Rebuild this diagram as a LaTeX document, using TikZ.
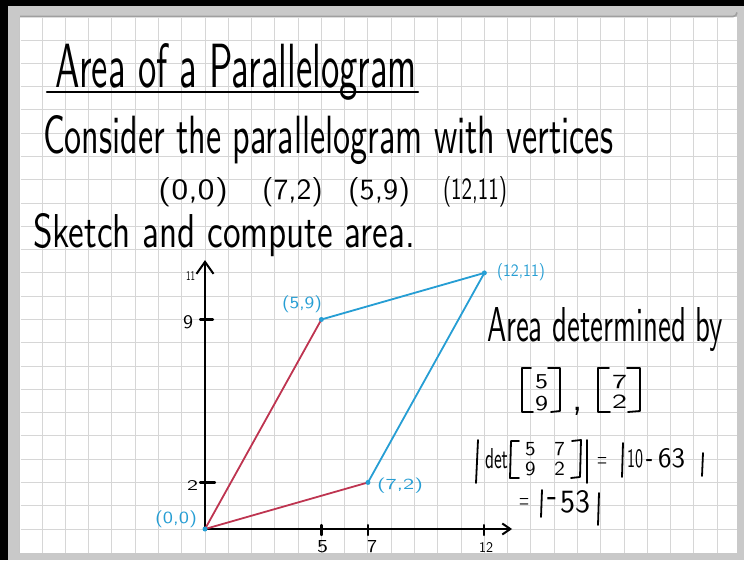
\documentclass[tikz,border=0pt]{standalone}
\usepackage{graphicx}
\usetikzlibrary{arrows.meta}
\definecolor{gridc}{RGB}{214,214,214}
\definecolor{redl}{RGB}{190,52,80}
\definecolor{bluel}{RGB}{38,158,212}
\definecolor{framec}{RGB}{201,201,201}
\newcommand{\hw}[3]{\resizebox{#1pt}{#2pt}{\sffamily #3}}
\begin{document}
\begin{tikzpicture}[x=1pt,y=-1pt,
  txt/.style={anchor=base west, inner sep=0pt, outer sep=0pt},
  btxt/.style={txt, text=bluel},
  pen/.style={line width=1.8pt, line cap=round, line join=round},
  gridline/.style={gridc, line width=1pt},
  axis/.style={line width=2.2pt, line cap=round},
  redline/.style={redl, line width=1.8pt},
  blueline/.style={bluel, line width=1.8pt},
  vdot/.style={circle, fill=bluel, inner sep=0pt, minimum size=5pt}]
\useasboundingbox (0,0) rectangle (744,560);
% frame and paper
\fill[black] (0,0) rectangle (744,560);
\fill[framec] (8,6) rectangle (744,560);
\fill[white] (20,17) rectangle (737,553);
\draw[gray!75, line width=1.6pt] (20,16.5) -- (733,16.5) arc[start angle=90, end angle=0, radius=4];
\draw[gray!45, line width=0.8pt] (19.6,17) -- (19.6,553);
% grid
\foreach \k in {-7,...,22} \draw[gridline] ({205+23.28*\k},17.5) -- ({205+23.28*\k},552.5);
\foreach \k in {0,...,21} \draw[gridline] (20.5,{529-23.28*\k}) -- (736.5,{529-23.28*\k});
% texts
\node[txt] (title) at (55,87) {\hw{362}{44}{Area of a Parallelogram}};
\draw[line width=2.4pt, line cap=round] (47,92) -- (418,92);
\node[txt] (line2) at (43,153) {\hw{570}{38}{Consider the parallelogram with vertices}};
\node[txt] (p00) at (158,199) {\hw{70}{22}{(0,0)}};
\node[txt] (p72) at (262,199) {\hw{61}{22}{(7,2)}};
\node[txt] (p59) at (348,199) {\hw{62}{22}{(5,9)}};
\node[txt] (p1211) at (443,199) {\hw{64}{23}{(12,11)}};
\node[txt] (line4) at (33,247) {\hw{382}{34}{Sketch and compute area.}};
\node[txt] (area) at (487,341) {\hw{236}{34}{Area determined by}};
% graph
\begin{scope}[shift={(205,529)}, x=23.28pt, y=23.28pt]
  \coordinate (O) at (0,0);
  \coordinate (A) at (5,9);
  \coordinate (B) at (7,2);
  \coordinate (C) at (12,11);
  \coordinate (ytip) at (0,11.55);
  \coordinate (xtip) at (13.19,0);
  \draw[axis, -{Straight Barb[length=12pt, width=17pt, line width=2pt]}] (O) -- (ytip);
  \draw[axis, -{Straight Barb[length=8pt, width=11pt, line width=2pt]}] (O) -- (xtip);
  \draw[axis] (-0.21,9) -- (0.34,9);
  \draw[axis] (-0.21,2) -- (0.43,2);
  \foreach \t in {5,7,12} \draw[axis] (\t,0.17) -- (\t,-0.26);
  \draw[redline] (O) -- (A);
  \draw[redline] (O) -- (B);
  \draw[blueline] (A) -- (C);
  \draw[blueline] (B) -- (C);
  \node[vdot] (dO) at (O) {};
  \node[vdot] (dA) at (A) {};
  \node[vdot] (dB) at (B) {};
  \node[vdot] (dC) at (C) {};
\end{scope}
% axis labels
\node[txt] (l11) at (186,280) {\hw{9}{9}{11}};
\node[txt] (l9) at (183,328) {\hw{10}{13}{9}};
\node[txt] (l2) at (187,490) {\hw{11}{10}{2}};
\node[txt] (l5) at (317,552) {\hw{11}{12}{5}};
\node[txt] (l7) at (367,552) {\hw{10}{12}{7}};
\node[txt] (l12) at (479,552) {\hw{14}{10}{12}};
% vertex labels
\node[btxt] (lA) at (282,308) {\hw{40}{12.75}{(5,9)}};
\node[btxt] (lB) at (377,489.5) {\hw{46}{11.5}{(7,2)}};
\node[btxt] (lC) at (497,276) {\hw{48}{13}{(12,11)}};
\node[btxt] (lO) at (155,523) {\hw{42}{12.75}{(0,0)}};
% vectors
\draw[pen] (531,368) -- (522,368) -- (522,412) -- (533,412);
\node[txt] (v59) at (535,410) {\hw{13}{35}{\shortstack{5\\9}}};
\draw[pen] (548,368) -- (560,368) -- (560,411) -- (551,412);
\node[txt] (comma) at (572,410) {\fontsize{40}{40}\selectfont\sffamily ,};
\draw[pen] (609,368) -- (598,368) -- (598,412) -- (610,412);
\node[txt] (v72) at (612,408) {\hw{15}{33}{\shortstack{7\\2}}};
\draw[pen] (627,368) -- (640,368) -- (640,411) -- (628,412);
% determinant line
\draw[pen] (478,440) -- (476,483);
\node[txt] (det) at (485,468) {\hw{23}{20}{det}};
\draw[pen] (519,441) -- (511,441) -- (510,478) -- (519,478);
\node[txt] (mat) at (525,475) {\hw{40}{33}{\shortstack{5\hspace{0.9em}7\\9\hspace{0.9em}2}}};
\draw[pen] (572,441) -- (581,440) -- (580,477) -- (571,478);
\draw[pen] (587,440) -- (587,483);
\node[txt] (eq1) at (597,467) {\hw{10}{10}{=}};
\draw[pen] (623,443) -- (622,477);
\node[txt] (n10) at (627,467) {\hw{16}{18}{10}};
\node[txt] (minus1) at (646,468) {\hw{7}{9}{-}};
\node[txt] (n63) at (658,467) {\hw{27}{19}{63}};
\draw[pen] (703,453) -- (702,476);
% result line
\node[txt] (eq2) at (519,508) {\hw{10}{10}{=}};
\draw[pen] (542,490) -- (541,517);
\node[txt] (minus2) at (547,507) {\hw{10}{10}{-}};
\node[txt] (n53) at (560,512) {\hw{30}{22}{53}};
\draw[pen] (599,493) -- (598,525);
\end{tikzpicture}
\end{document}
